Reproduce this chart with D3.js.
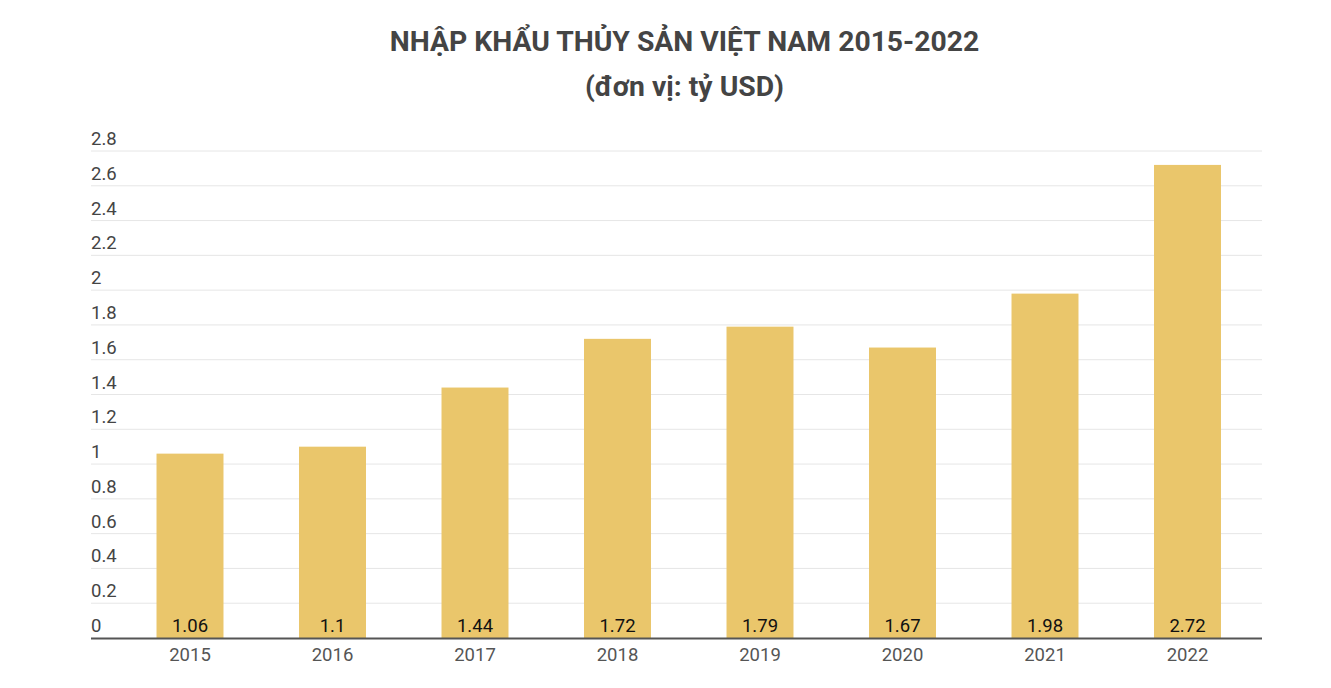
<!DOCTYPE html>
<html><head><meta charset="utf-8">
<script src="https://cdn.jsdelivr.net/npm/d3@7"></script>
<style>body{margin:0;background:#fff;}svg{display:block;font-family:Roboto,"Noto Sans",sans-serif;}</style>
</head><body>
<svg id="c" width="1331" height="688"></svg>
<script>
const years = ["2015","2016","2017","2018","2019","2020","2021","2022"];
const values = [1.06,1.1,1.44,1.72,1.79,1.67,1.98,2.72];
const yTicks = [0,0.2,0.4,0.6,0.8,1,1.2,1.4,1.6,1.8,2,2.2,2.4,2.6,2.8];
const titleLines = ["NHẬP KHẨU THỦY SẢN VIỆT NAM 2015-2022","(đơn vị: tỷ USD)"];

const svg = d3.select("#c");
const x = d3.scaleBand().domain(years).range([118.75,1258.75]).paddingInner(0.53).paddingOuter(0.265);
const y = d3.scaleLinear().domain([0,2.8]).range([638,151]);
const gridX0 = 91, gridX1 = 1262;

svg.selectAll("text.title").data(titleLines).join("text")
  .attr("x",684.5).attr("y",(d,i)=>[51,96][i])
  .attr("text-anchor","middle").attr("font-weight","bold").attr("font-size",28.3)
  .attr("fill","#444").text(d=>d);

svg.selectAll("line.grid").data(yTicks.filter(t=>t>0)).join("line")
  .attr("x1",gridX0).attr("x2",gridX1).attr("y1",d=>y(d)).attr("y2",d=>y(d))
  .attr("stroke","#e6e6e6").attr("stroke-width",1);

svg.selectAll("text.ytick").data(yTicks).join("text")
  .attr("x",gridX0).attr("y",d=>y(d)-6).attr("font-size",18.5).attr("fill","#444")
  .text(d=>d);

svg.selectAll("rect.bar").data(values).join("rect")
  .attr("x",(d,i)=>x(years[i])).attr("width",x.bandwidth())
  .attr("y",d=>y(d)).attr("height",d=>y(0)-y(d)).attr("fill","#EAC66B");

svg.selectAll("text.val").data(values).join("text")
  .attr("x",(d,i)=>x(years[i])+x.bandwidth()/2).attr("y",y(0)-6)
  .attr("text-anchor","middle").attr("font-size",18.5).attr("fill","#111").text(d=>d);

svg.append("line").attr("x1",gridX0).attr("x2",gridX1).attr("y1",y(0)+0.5).attr("y2",y(0)+0.5)
  .attr("stroke","#555").attr("stroke-width",2);

svg.selectAll("text.xl").data(years).join("text")
  .attr("x",d=>x(d)+x.bandwidth()/2).attr("y",661).attr("text-anchor","middle")
  .attr("font-size",18.5).attr("fill","#555").text(d=>d);
</script>
</body></html>
